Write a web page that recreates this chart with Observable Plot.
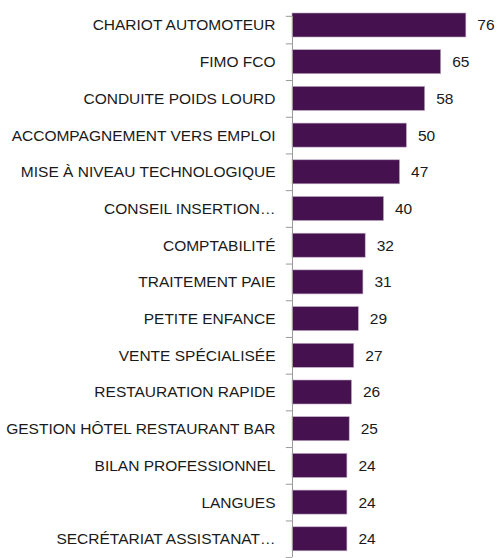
<!DOCTYPE html>
<html>
<head>
<meta charset="utf-8">
<script src="https://cdn.jsdelivr.net/npm/d3@7"></script>
<script src="https://cdn.jsdelivr.net/npm/@observablehq/plot@0.6"></script>
<style>
  html, body { margin: 0; padding: 0; background: #fff; }
  #chart svg { display: block; }
</style>
</head>
<body>
<div id="chart"></div>
<script>
const categories = [
  "CHARIOT AUTOMOTEUR",
  "FIMO FCO",
  "CONDUITE POIDS LOURD",
  "ACCOMPAGNEMENT VERS EMPLOI",
  "MISE À NIVEAU TECHNOLOGIQUE",
  "CONSEIL INSERTION…",
  "COMPTABILITÉ",
  "TRAITEMENT PAIE",
  "PETITE ENFANCE",
  "VENTE SPÉCIALISÉE",
  "RESTAURATION RAPIDE",
  "GESTION HÔTEL RESTAURANT BAR",
  "BILAN PROFESSIONNEL",
  "LANGUES",
  "SECRÉTARIAT ASSISTANAT…"
];
const values = [76, 65, 58, 50, 47, 40, 32, 31, 29, 27, 26, 25, 24, 24, 24];

const data = categories.map((c, i) => ({index: i, category: c, value: values[i]}));
const boundaries = [-0.25].concat(d3.range(categories.length).map(i => i + 0.5));
const half = 0.327;

const chart = Plot.plot({
  width: 497,
  height: 558,
  marginLeft: 292,
  marginRight: 22,
  marginTop: 6.65,
  marginBottom: 0.85,
  style: {fontFamily: "'Liberation Sans', Arial, sans-serif", fontSize: "15.5px", color: "#1a1a1a", background: "#fff"},
  x: {domain: [0, 80], axis: null},
  y: {domain: [-0.5, categories.length - 0.5], reverse: true, axis: null},
  marks: [
    Plot.axisY({
      ticks: d3.range(categories.length),
      tickFormat: i => categories[i],
      tickSize: 0,
      tickPadding: 17,
      label: null,
      fontSize: 15.5,
      fill: "#1a1a1a"
    }),
    Plot.rectX(data, {
      x1: 0,
      x2: "value",
      y1: d => d.index - half,
      y2: d => d.index + half,
      fill: "#46114f",
      stroke: "#bba8c0",
      strokeWidth: 0.6
    }),
    Plot.ruleX([0], {y1: -0.25, y2: categories.length - 0.5, stroke: "#9a9a9a", strokeWidth: 1}),
    Plot.ruleY(boundaries, {y: d => d, x1: -2.7, x2: 0, stroke: "#9a9a9a", strokeWidth: 1}),
    Plot.text(data, {
      x: "value",
      y: "index",
      text: d => String(d.value),
      textAnchor: "start",
      dx: 11,
      fontSize: 15.5,
      fill: "#1a1a1a"
    })
  ]
});
document.getElementById("chart").appendChild(chart);
</script>
</body>
</html>
